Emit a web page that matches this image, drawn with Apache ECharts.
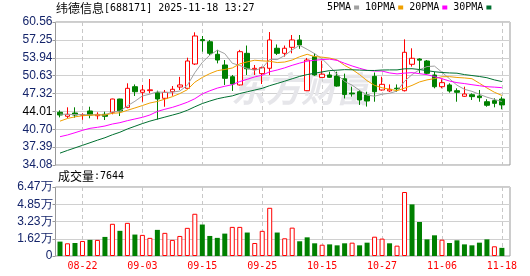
<!DOCTYPE html>
<html><head><meta charset="utf-8">
<script src="https://cdn.jsdelivr.net/npm/echarts@6/dist/echarts.min.js"></script>
<style>html,body{margin:0;padding:0;background:#fff}#c{width:530px;height:276px}</style>
</head><body><div id="c"></div>
<script>
const dates = ['08-19','08-20','08-21','08-22','08-25','08-26','08-27','08-28','08-29','09-01','09-02','09-03','09-04','09-05','09-08','09-09','09-10','09-11','09-12','09-15','09-16','09-17','09-18','09-19','09-22','09-23','09-24','09-25','09-26','09-29','09-30','10-09','10-10','10-13','10-14','10-15','10-16','10-17','10-20','10-21','10-22','10-23','10-24','10-27','10-28','10-29','10-30','10-31','11-03','11-04','11-05','11-06','11-07','11-10','11-11','11-12','11-13','11-14','11-17','11-18'];
const opens  = [43.84,43.10,43.71,43.32,44.08,43.20,43.47,43.84,46.30,44.76,48.58,47.54,47.85,47.47,46.43,47.65,48.52,48.28,52.78,57.30,56.90,54.58,52.60,50.43,48.90,54.76,51.75,51.00,51.99,55.70,54.76,55.87,57.23,47.84,54.14,50.30,50.75,50.56,50.05,47.40,47.65,47.05,50.50,47.97,47.80,48.30,47.84,52.73,53.70,53.34,50.75,48.58,48.90,47.84,46.80,47.10,46.86,45.80,46.00,46.30];
const closes = [43.34,43.47,43.34,43.40,43.34,43.45,43.10,46.30,44.08,48.28,47.65,47.97,48.00,46.30,47.54,48.10,48.90,53.34,57.97,57.10,54.76,53.52,50.13,49.08,55.06,51.90,51.98,52.10,57.23,54.76,55.70,57.23,56.30,53.52,50.75,50.90,50.32,48.70,47.15,47.25,46.12,45.93,47.65,49.02,48.10,48.20,54.95,53.84,53.50,51.06,48.58,49.33,47.78,47.54,47.23,46.74,46.55,45.14,45.50,45.20];
const lows   = [42.90,42.73,42.84,42.45,42.73,42.54,42.41,43.47,43.15,44.58,46.86,45.80,47.36,42.50,44.87,46.90,47.97,48.28,52.60,55.06,54.45,52.90,48.90,47.80,48.80,50.75,50.75,49.08,50.75,54.45,54.14,54.76,55.60,47.80,50.60,50.30,50.20,48.58,46.40,46.74,45.20,44.90,45.80,47.84,47.60,47.60,47.70,52.30,51.06,50.87,48.28,48.28,47.47,45.80,46.70,46.12,45.80,44.87,44.76,44.39];
const highs  = [44.20,44.76,44.76,43.65,44.87,43.84,43.95,46.35,46.35,49.21,49.00,48.90,50.00,47.84,47.97,48.70,50.40,53.95,58.65,57.97,57.23,55.40,53.52,50.75,55.40,56.20,52.60,52.30,58.70,56.40,56.20,58.15,58.15,53.90,54.80,53.40,51.36,51.36,51.00,48.58,47.97,47.65,51.20,50.43,49.00,49.00,57.35,55.69,53.84,53.52,51.36,49.95,49.21,48.28,48.58,47.35,47.97,46.25,46.43,46.74];
const volumes = [13500,11900,12200,14100,15100,15100,17900,30200,23600,31100,20100,19800,17000,24500,21700,15100,18800,26400,39600,29500,18800,17000,21000,27300,27300,22000,12200,23600,45200,22000,16600,26600,13800,17500,11900,10600,10900,10000,11900,12500,10000,12500,18100,16300,11900,9700,60000,48400,31900,15600,19400,15300,12200,14700,10900,10000,12500,15600,9100,7644];
const volUp = [0,1,0,1,0,1,0,1,0,1,0,1,1,0,1,1,1,1,1,0,0,0,0,1,1,0,1,1,1,0,1,1,0,0,0,1,0,0,0,1,0,0,1,1,0,1,1,0,0,0,0,1,0,0,0,0,0,0,1,0];
const ma5  = [43.50,43.45,43.42,43.40,43.38,43.40,43.33,43.92,44.05,45.04,45.88,46.86,47.20,47.64,47.49,47.58,47.77,48.84,51.17,53.08,54.41,55.34,54.70,52.92,52.51,51.94,51.63,52.02,53.65,53.59,54.35,55.40,56.24,55.50,54.70,53.74,52.36,50.84,49.56,48.86,47.91,47.03,46.82,47.19,47.36,47.78,49.58,50.82,51.72,52.31,52.39,51.26,50.05,48.86,48.09,47.72,47.17,46.64,46.23,45.83];
const ma10 = [42.20,42.70,43.00,43.20,43.30,43.35,43.35,43.65,43.75,44.21,44.64,45.09,45.56,45.85,46.27,46.73,47.31,48.02,49.41,50.29,51.00,51.55,51.77,52.04,52.80,53.18,53.48,53.36,53.29,53.05,53.15,53.52,54.13,54.58,54.15,54.05,53.88,53.54,52.53,51.78,50.82,49.69,48.83,48.38,48.11,47.84,48.31,48.82,49.46,49.84,50.08,50.42,50.44,50.29,50.20,50.06,49.22,48.35,47.55,46.96];
const ma20 = [39.32,39.64,40.06,40.50,40.87,41.06,41.30,41.67,41.92,42.29,42.60,42.91,43.34,44.00,44.40,44.75,45.20,45.70,46.35,47.25,47.82,48.32,48.66,48.95,49.53,49.95,50.40,50.69,51.35,51.67,52.07,52.54,52.95,53.31,53.47,53.61,53.68,53.45,52.91,52.42,51.99,51.61,51.48,51.48,51.13,50.95,51.09,51.18,50.99,50.81,50.45,50.06,49.63,49.33,49.16,48.95,48.76,48.58,48.50,48.40];
const ma30 = [36.28,36.78,37.25,37.72,38.20,38.68,39.13,39.68,40.15,40.75,41.25,41.75,42.20,42.58,42.95,43.32,43.70,44.21,44.86,45.46,45.92,46.34,46.63,46.88,47.31,47.64,47.96,48.28,48.77,49.18,49.60,50.05,50.49,50.82,51.07,51.32,51.56,51.64,51.74,51.71,51.66,51.59,51.58,51.67,51.69,51.69,51.89,51.91,51.76,51.56,51.35,51.21,51.13,51.08,50.82,50.65,50.47,50.24,49.84,49.53];
const priceTickLabels = ['34.08','37.39','40.70','44.01','47.32','50.63','53.94','57.25','60.56'];
const volTickLabels = ['0','1.62万','3.23万','4.85万','6.47万'];
const volTickValues = [0,16175,32350,48525,64700];
const titleName = '纬德信息';
const titleInfo = '[688171] 2025-11-18 13:27';
const volTitle = '成交量';
const volLatest = ':7644';

const RED = '#ff0000', GREEN = '#008000';
const labelFont = 'Liberation Sans';
const monoFont = 'DejaVu Sans Mono';
const cjkFont = 'Noto Sans CJK SC';
const labelColor = '#14246a';
const dashIdx = (i) => i % 8 === 3;

function nearestLabel(v, labels) {
  let best = 0, bd = Infinity;
  labels.forEach((s, i) => { const d = Math.abs(parseFloat(s) - v); if (d < bd) { bd = d; best = i; } });
  return best;
}

const chart = echarts.init(document.getElementById('c'), null, {renderer: 'canvas'});
const maNames = ['5PMA','10PMA','20PMA','30PMA'];
const maColors = ['#a0a0a0','#f0a000','#ff00ff','#007030'];
const maData = [ma5, ma10, ma20, ma30];
const richTitle = {
  a: {fontFamily: cjkFont, fontSize: 12, fontWeight: 'normal', color: '#000', lineHeight: 13},
  b: {fontFamily: monoFont, fontSize: 10, fontWeight: 'normal', color: '#000', lineHeight: 13}
};

const option = {
  animation: false,
  backgroundColor: '#fff',
  title: [
    {left: 56, top: 2, padding: 0,
     text: '{a|' + titleName + '}{b|' + titleInfo + '}',
     textStyle: {fontWeight: 'normal', rich: richTitle}},
    {left: 58, top: 170, padding: 0,
     text: '{a|' + volTitle + '}{b|' + volLatest + '}',
     textStyle: {fontWeight: 'normal', rich: richTitle}}
  ],
  legend: {
    left: 327, top: 2.5, padding: 0, itemGap: 6, itemWidth: 5, itemHeight: 4,
    align: 'right', icon: 'rect', selectedMode: false,
    textStyle: {fontFamily: monoFont, fontSize: 10, color: '#000', padding: [0, -2, 0, 0]},
    data: maNames.map((n, i) => ({name: n, itemStyle: {color: maColors[i]}}))
  },
  graphic: [
    {type: 'text', left: 231, top: 71, z: 1, silent: true,
     style: {text: '东方财富', fill: '#e6e6ea', font: 'italic bold 35px "Noto Sans CJK SC"'}}
  ],
  grid: [
    {left: 60, width: 441.9, top: 22, height: 143, outerBoundsMode: 'none'},
    {left: 60, width: 441.9, top: 187, height: 69, outerBoundsMode: 'none'},
    {left: 55.5, right: 20, top: 22, height: 143, show: true, borderColor: '#999', borderWidth: 1, backgroundColor: 'transparent', outerBoundsMode: 'none'},
    {left: 55.5, right: 20, top: 187, height: 69, show: true, borderColor: '#999', borderWidth: 1, backgroundColor: 'transparent', outerBoundsMode: 'none'}
  ],
  xAxis: [
    {gridIndex: 0, type: 'category', data: dates, boundaryGap: false,
     axisLine: {show: false}, axisTick: {show: false}, axisLabel: {show: false},
     splitLine: {show: true, interval: dashIdx, lineStyle: {color: '#c8c8c8', type: [4, 3], width: 1}}},
    {gridIndex: 1, type: 'category', data: dates, boundaryGap: false,
     axisLine: {show: false}, axisTick: {show: false},
     axisLabel: {show: true, interval: dashIdx, color: RED, fontFamily: monoFont, fontSize: 10, margin: 5},
     splitLine: {show: true, interval: dashIdx, lineStyle: {color: '#c8c8c8', type: [4, 3], width: 1}}},
    {gridIndex: 2, type: 'value', show: false, min: 0, max: 1},
    {gridIndex: 3, type: 'value', show: false, min: 0, max: 1}
  ],
  yAxis: [
    {gridIndex: 0, type: 'value', min: 34.08, max: 60.56, show: false},
    {gridIndex: 1, type: 'value', min: 0, max: 64700, show: false},
    {gridIndex: 2, type: 'value', min: 34.08, max: 60.56, interval: 3.31,
     axisLine: {show: false},
     axisTick: {show: true, length: 3, lineStyle: {color: '#999'}},
     axisLabel: {margin: 3, fontFamily: labelFont, fontSize: 12,
       color: (v) => priceTickLabels[nearestLabel(v, priceTickLabels)] === '44.01' ? '#000' : labelColor,
       formatter: (v) => priceTickLabels[nearestLabel(v, priceTickLabels)]},
     splitLine: {show: true, lineStyle: {color: '#d0d0d0', width: 1}}},
    {gridIndex: 3, type: 'value', min: 0, max: 64700, interval: 16175,
     axisLine: {show: false},
     axisTick: {show: true, length: 3, lineStyle: {color: '#999'}},
     axisLabel: {margin: 3, fontFamily: labelFont, fontSize: 12, color: labelColor,
       formatter: (v) => volTickLabels[Math.round(v / volTickValues[1])]},
     splitLine: {show: true, lineStyle: {color: '#d0d0d0', width: 1}}}
  ],
  series: [
    {type: 'candlestick', name: 'K', xAxisIndex: 0, yAxisIndex: 0, barWidth: 5, clip: false, silent: true,
     data: opens.map((o, i) => [o, closes[i], lows[i], highs[i]]),
     itemStyle: {color: '#ffffff', color0: GREEN, borderColor: RED, borderColor0: GREEN, borderWidth: 1}},
    ...maNames.map((n, k) => ({
      type: 'line', name: n, xAxisIndex: 0, yAxisIndex: 0, data: maData[k],
      symbol: 'none', silent: true, clip: false, color: maColors[k],
      lineStyle: {color: maColors[k], width: 1}
    })),
    {type: 'bar', name: 'VOL', xAxisIndex: 1, yAxisIndex: 1, barWidth: 5, clip: false, silent: true,
     data: volumes.map((v, i) => ({value: v, itemStyle: volUp[i]
        ? {color: '#ffffff', borderColor: RED, borderWidth: 1}
        : {color: GREEN, borderColor: GREEN, borderWidth: 0}}))}
  ]
};
chart.setOption(option);
</script>
</body></html>
